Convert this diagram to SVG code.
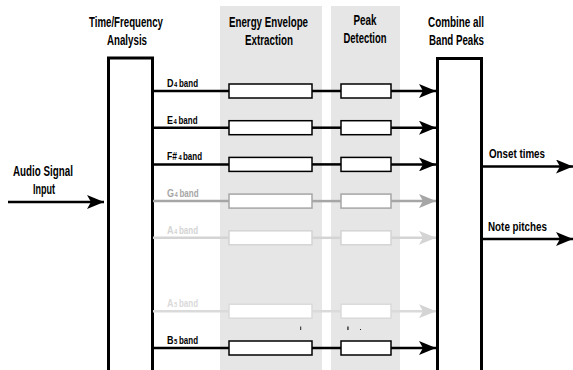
<svg xmlns="http://www.w3.org/2000/svg" width="573" height="370" viewBox="0 0 573 370">
<style>
text{font-family:"Liberation Sans",Arial,sans-serif;font-weight:bold;fill:#000}
.h{font-size:14px;text-anchor:middle}
.b{font-size:11px}
.sub{font-size:7px}
.col{fill:#e6e6e6}
.blk{stroke:#000;stroke-width:3;fill:#fff}
.ln{stroke-width:2.5;fill:none}
.bx{fill:#fff;stroke-width:1.5}
</style>
<defs>
<marker id="ak" markerUnits="userSpaceOnUse" markerWidth="18" markerHeight="14" refX="17" refY="7" orient="auto"><path d="M0,0 L17,7 L0,14 L4,7 Z" fill="#000"/></marker>
<marker id="ag" markerUnits="userSpaceOnUse" markerWidth="18" markerHeight="14" refX="17" refY="7" orient="auto"><path d="M0,0 L17,7 L0,14 L4,7 Z" fill="#a6a6a6"/></marker>
<marker id="al" markerUnits="userSpaceOnUse" markerWidth="18" markerHeight="14" refX="17" refY="7" orient="auto"><path d="M0,0 L17,7 L0,14 L4,7 Z" fill="#d4d4d4"/></marker>
</defs>
<g id="columns">
<rect class="col" x="220" y="6" width="102" height="364"/>
<rect class="col" x="331" y="6" width="69" height="364"/>
</g>
<g id="headers">
<text class="h" x="126" y="27" textLength="74" lengthAdjust="spacingAndGlyphs">Time/Frequency</text>
<text class="h" x="127" y="45" textLength="40" lengthAdjust="spacingAndGlyphs">Analysis</text>
<text class="h" x="268.5" y="27" textLength="79" lengthAdjust="spacingAndGlyphs">Energy Envelope</text>
<text class="h" x="269" y="45" textLength="48" lengthAdjust="spacingAndGlyphs">Extraction</text>
<text class="h" x="365" y="25" textLength="23" lengthAdjust="spacingAndGlyphs">Peak</text>
<text class="h" x="365" y="43" textLength="43" lengthAdjust="spacingAndGlyphs">Detection</text>
<text class="h" x="456" y="27" textLength="56" lengthAdjust="spacingAndGlyphs">Combine all</text>
<text class="h" x="456.5" y="45" textLength="55" lengthAdjust="spacingAndGlyphs">Band Peaks</text>
</g>
<g id="input">
<text class="h" x="43" y="176" textLength="60" lengthAdjust="spacingAndGlyphs">Audio Signal</text>
<text class="h" x="44" y="194" textLength="22" lengthAdjust="spacingAndGlyphs">Input</text>
</g>
<g id="tf-analysis"><rect class="blk" x="108.5" y="58" width="44" height="320"/></g>
<g id="combine"><rect class="blk" x="437.5" y="58.5" width="44" height="320"/></g>
<g id="connectors">
<line x1="8" y1="202" x2="104" y2="202" stroke="#000" stroke-width="2.5" marker-end="url(#ak)"/>
<line x1="482" y1="166.5" x2="573" y2="166.5" stroke="#000" stroke-width="2.5" marker-end="url(#ak)"/>
<line x1="482" y1="239" x2="573" y2="239" stroke="#000" stroke-width="2.5" marker-end="url(#ak)"/>
</g>
<g id="outputs">
<text x="489" y="158" style="font-size:13px" textLength="56" lengthAdjust="spacingAndGlyphs">Onset times</text>
<text x="488" y="231" style="font-size:13px" textLength="59" lengthAdjust="spacingAndGlyphs">Note pitches</text>
</g>
<g id="band-D4" stroke="#000">
<g stroke="none"><text class="b" x="167" y="87" textLength="6.5" lengthAdjust="spacingAndGlyphs">D</text><text class="sub" x="174" y="87" textLength="3.3" lengthAdjust="spacingAndGlyphs">4</text><text class="b" x="179" y="87" textLength="19" lengthAdjust="spacingAndGlyphs">band</text></g>
<line class="ln" x1="153" y1="91" x2="229" y2="91"/><rect class="bx" x="229" y="84" width="83" height="14"/>
<line class="ln" x1="312" y1="91" x2="341" y2="91"/><rect class="bx" x="341" y="84" width="50" height="14"/>
<line class="ln" x1="391" y1="91" x2="436" y2="91" marker-end="url(#ak)"/>
</g>
<g id="band-E4" stroke="#000">
<g stroke="none"><text class="b" x="167" y="123.5" textLength="6" lengthAdjust="spacingAndGlyphs">E</text><text class="sub" x="173.5" y="123.5" textLength="3.3" lengthAdjust="spacingAndGlyphs">4</text><text class="b" x="178.5" y="123.5" textLength="19" lengthAdjust="spacingAndGlyphs">band</text></g>
<line class="ln" x1="153" y1="127.7" x2="229" y2="127.7"/><rect class="bx" x="229" y="120.7" width="83" height="14"/>
<line class="ln" x1="312" y1="127.7" x2="341" y2="127.7"/><rect class="bx" x="341" y="120.7" width="50" height="14"/>
<line class="ln" x1="391" y1="127.7" x2="436" y2="127.7" marker-end="url(#ak)"/>
</g>
<g id="band-F4" stroke="#000">
<g stroke="none"><text class="b" x="167" y="160" textLength="10" lengthAdjust="spacingAndGlyphs">F#</text><text class="sub" x="178.5" y="160" textLength="3.3" lengthAdjust="spacingAndGlyphs">4</text><text class="b" x="183" y="160" textLength="19" lengthAdjust="spacingAndGlyphs">band</text></g>
<line class="ln" x1="153" y1="164.4" x2="229" y2="164.4"/><rect class="bx" x="229" y="157.4" width="83" height="14"/>
<line class="ln" x1="312" y1="164.4" x2="341" y2="164.4"/><rect class="bx" x="341" y="157.4" width="50" height="14"/>
<line class="ln" x1="391" y1="164.4" x2="436" y2="164.4" marker-end="url(#ak)"/>
</g>
<g id="band-G4" stroke="#a6a6a6">
<g stroke="none"><text class="b" x="167" y="197" textLength="7" lengthAdjust="spacingAndGlyphs" style="fill:#a6a6a6">G</text><text class="sub" x="174.5" y="197" textLength="3.3" lengthAdjust="spacingAndGlyphs" style="fill:#a6a6a6">4</text><text class="b" x="179.5" y="197" textLength="19" lengthAdjust="spacingAndGlyphs" style="fill:#a6a6a6">band</text></g>
<line class="ln" x1="153" y1="201.1" x2="229" y2="201.1"/><rect class="bx" x="229" y="194.1" width="83" height="14"/>
<line class="ln" x1="312" y1="201.1" x2="341" y2="201.1"/><rect class="bx" x="341" y="194.1" width="50" height="14"/>
<line class="ln" x1="391" y1="201.1" x2="436" y2="201.1" marker-end="url(#ag)"/>
</g>
<g id="band-A4" stroke="#d4d4d4">
<g stroke="none"><text class="b" x="167" y="233.5" textLength="6.5" lengthAdjust="spacingAndGlyphs" style="fill:#d4d4d4">A</text><text class="sub" x="174" y="233.5" textLength="3.3" lengthAdjust="spacingAndGlyphs" style="fill:#d4d4d4">4</text><text class="b" x="179" y="233.5" textLength="19" lengthAdjust="spacingAndGlyphs" style="fill:#d4d4d4">band</text></g>
<line class="ln" x1="153" y1="237.8" x2="229" y2="237.8"/><rect class="bx" x="229" y="230.8" width="83" height="14"/>
<line class="ln" x1="312" y1="237.8" x2="341" y2="237.8"/><rect class="bx" x="341" y="230.8" width="50" height="14"/>
<line class="ln" x1="391" y1="237.8" x2="436" y2="237.8" marker-end="url(#al)"/>
</g>
<g id="band-A5" stroke="#dadada">
<g stroke="none"><text class="b" x="167" y="307" textLength="6.5" lengthAdjust="spacingAndGlyphs" style="fill:#dadada">A</text><text class="sub" x="174" y="307" textLength="3.3" lengthAdjust="spacingAndGlyphs" style="fill:#dadada">5</text><text class="b" x="179" y="307" textLength="19" lengthAdjust="spacingAndGlyphs" style="fill:#dadada">band</text></g>
<line class="ln" x1="153" y1="311.2" x2="229" y2="311.2"/><rect class="bx" x="229" y="304.2" width="83" height="14"/>
<line class="ln" x1="312" y1="311.2" x2="341" y2="311.2"/><rect class="bx" x="341" y="304.2" width="50" height="14"/>
<line class="ln" x1="391" y1="311.2" x2="436" y2="311.2" marker-end="url(#al)"/>
</g>
<g id="marks" fill="#222">
<rect x="300.2" y="326.5" width="1" height="3.5"/>
<rect x="347.3" y="326.5" width="1.3" height="3.5"/>
<rect x="360" y="329" width="1" height="1"/>
</g>
<g id="band-B5" stroke="#000">
<g stroke="none"><text class="b" x="167" y="344" textLength="6.5" lengthAdjust="spacingAndGlyphs">B</text><text class="sub" x="174" y="344" textLength="3.3" lengthAdjust="spacingAndGlyphs">5</text><text class="b" x="179" y="344" textLength="19" lengthAdjust="spacingAndGlyphs">band</text></g>
<line class="ln" x1="153" y1="348" x2="229" y2="348"/><rect class="bx" x="229" y="341" width="83" height="14"/>
<line class="ln" x1="312" y1="348" x2="341" y2="348"/><rect class="bx" x="341" y="341" width="50" height="14"/>
<line class="ln" x1="391" y1="348" x2="436" y2="348" marker-end="url(#ak)"/>
</g>
</svg>
